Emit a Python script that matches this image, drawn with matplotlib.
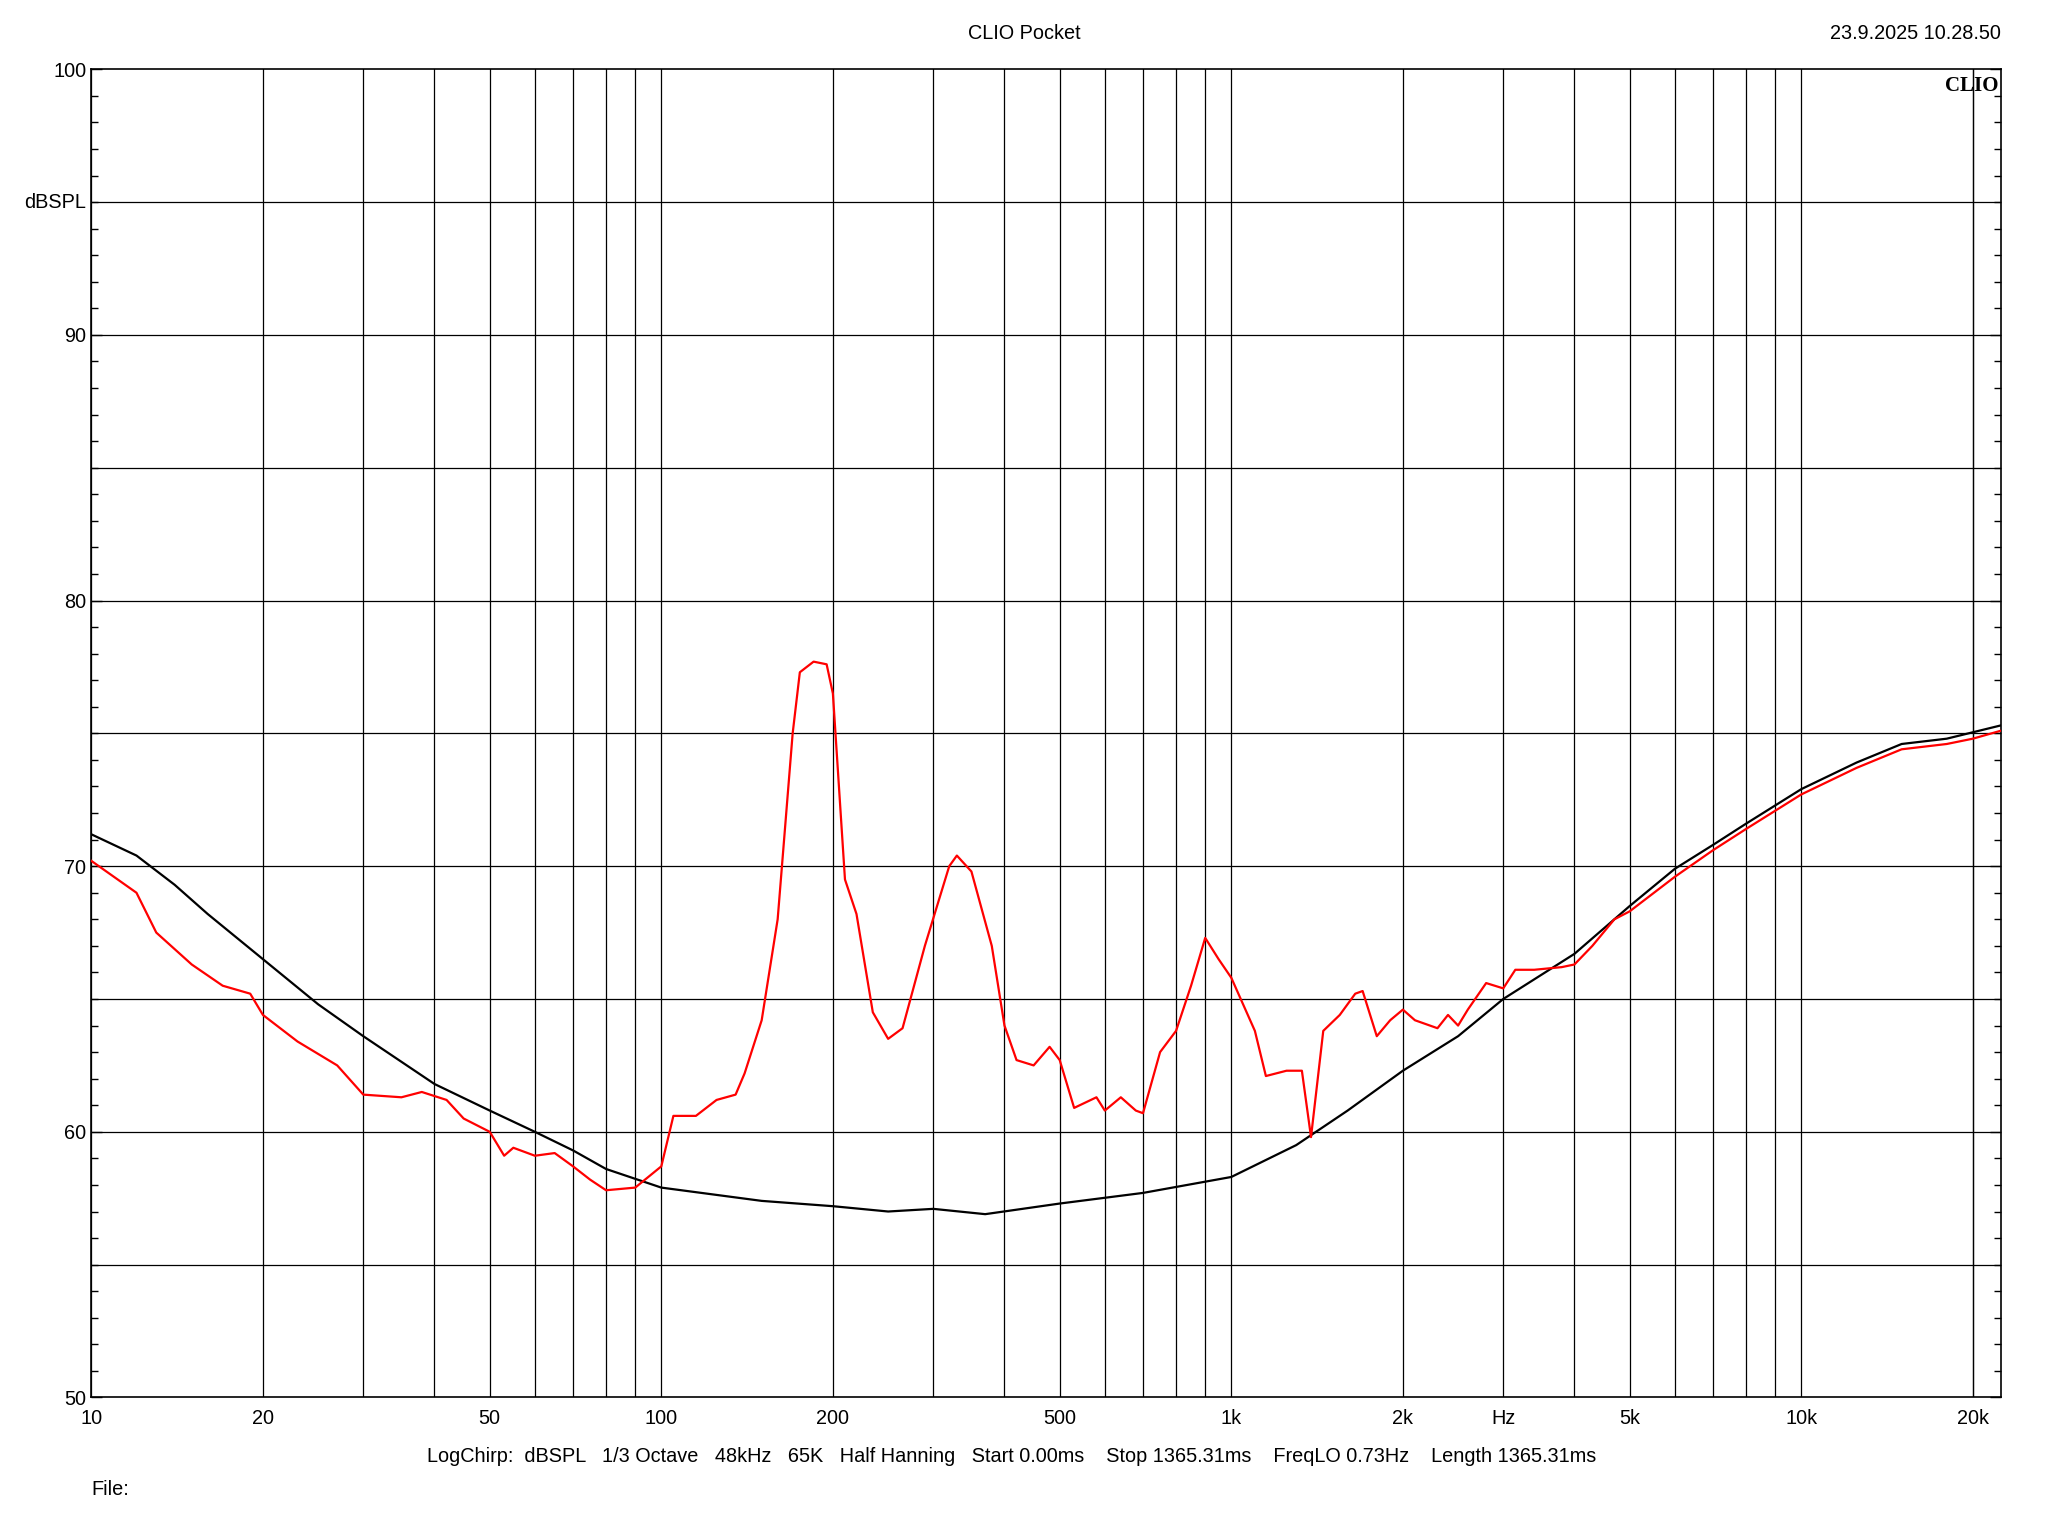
import matplotlib
matplotlib.use("Agg")
import matplotlib.pyplot as plt
import numpy as np

black_f = [10,12,14,16,20,25,30,40,50,60,70,80,100,150,200,250,300,370,500,700,1000,1300,1600,2000,2500,3000,4000,5000,6000,7000,8000,10000,12500,15000,18000,22400]
black_db = [71.2,70.4,69.3,68.2,66.5,64.8,63.6,61.8,60.8,60.0,59.3,58.6,57.9,57.4,57.2,57.0,57.1,56.9,57.3,57.7,58.3,59.5,60.8,62.3,63.6,65.0,66.7,68.5,69.9,70.8,71.6,72.9,73.9,74.6,74.8,75.3]
red_f = [10,12,13,15,17,19,20,23,27,30,35,38,42,45,50,53,55,60,65,70,75,80,90,100,105,115,125,135,140,150,160,170,175,185,195,200,210,220,235,250,265,290,320,330,350,380,400,420,450,480,500,530,580,600,640,680,700,750,800,850,900,950,1000,1100,1150,1250,1330,1380,1450,1550,1650,1700,1800,1900,2000,2100,2300,2400,2500,2600,2800,3000,3150,3400,3800,4000,4300,4700,5000,6000,7000,8000,10000,12500,15000,18000,20000,22400]
red_db = [70.2,69.0,67.5,66.3,65.5,65.2,64.4,63.4,62.5,61.4,61.3,61.5,61.2,60.5,60.0,59.1,59.4,59.1,59.2,58.7,58.2,57.8,57.9,58.7,60.6,60.6,61.2,61.4,62.2,64.2,68.0,75.0,77.3,77.7,77.6,76.5,69.5,68.2,64.5,63.5,63.9,67.0,70.0,70.4,69.8,67.0,64.0,62.7,62.5,63.2,62.7,60.9,61.3,60.8,61.3,60.8,60.7,63.0,63.8,65.5,67.3,66.5,65.8,63.8,62.1,62.3,62.3,59.8,63.8,64.4,65.2,65.3,63.6,64.2,64.6,64.2,63.9,64.4,64.0,64.6,65.6,65.4,66.1,66.1,66.2,66.3,67.0,68.0,68.3,69.6,70.6,71.4,72.7,73.7,74.4,74.6,74.8,75.1]
xtick_vals = [10,20,50,100,200,500,1000,2000,3000,5000,10000,20000]
xtick_labels = ["10","20","50","100","200","500","1k","2k","Hz","5k","10k","20k"]
ytick_vals = [50,60,70,80,90,100]

plt.rcParams['font.family'] = ['Liberation Sans','DejaVu Sans']
fs = 14.3
fig = plt.figure(figsize=(20.48,15.36), dpi=100)
ax = fig.add_axes([0.0446,0.0902,0.9324,0.8647])
ax.set_xscale('log')
ax.set_xlim(10,22400)
ax.set_ylim(50,100)
grid_f = [m*10**e for e in range(1,5) for m in range(1,10)] + [20000]
for g in grid_f:
    ax.axvline(g, color='black', lw=0.9, zorder=1)
for y in range(55,100,5):
    ax.axhline(y, color='black', lw=0.9, zorder=1)
ax.plot(black_f, black_db, color='black', lw=1.6, zorder=3)
ax.plot(red_f, red_db, color='#ff0000', lw=1.6, zorder=4)
ax.set_xticks(xtick_vals)
ax.set_xticklabels(xtick_labels, fontsize=fs)
ax.xaxis.set_minor_locator(matplotlib.ticker.NullLocator())
ax.set_yticks(ytick_vals)
ax.set_yticklabels([str(v) for v in ytick_vals], fontsize=fs)
ax.set_yticks(range(50,101), minor=True)
ax.tick_params(axis='y', which='both', direction='in', right=True, length=8, width=1)
ax.tick_params(axis='y', which='minor', length=5)
ax.tick_params(axis='x', length=0, pad=8)
for s in ax.spines.values():
    s.set_linewidth(1.2)
ax.text(-0.003, 95, 'dBSPL', transform=ax.get_yaxis_transform(), ha='right', va='center', fontsize=fs)
ax.text(0.999, 0.995, 'CLIO', transform=ax.transAxes, ha='right', va='top', fontsize=15, fontweight='bold', family='Liberation Serif')
fig.text(0.5, 0.978, 'CLIO Pocket', ha='center', va='center', fontsize=fs)
fig.text(0.977, 0.978, '23.9.2025 10.28.50', ha='right', va='center', fontsize=fs)
fig.text(0.494, 0.052, 'LogChirp:  dBSPL   1/3 Octave   48kHz   65K   Half Hanning   Start 0.00ms    Stop 1365.31ms    FreqLO 0.73Hz    Length 1365.31ms', ha='center', va='center', fontsize=fs)
fig.text(0.0446, 0.030, 'File:', ha='left', va='center', fontsize=fs)
fig.savefig('out.png', dpi=100)
